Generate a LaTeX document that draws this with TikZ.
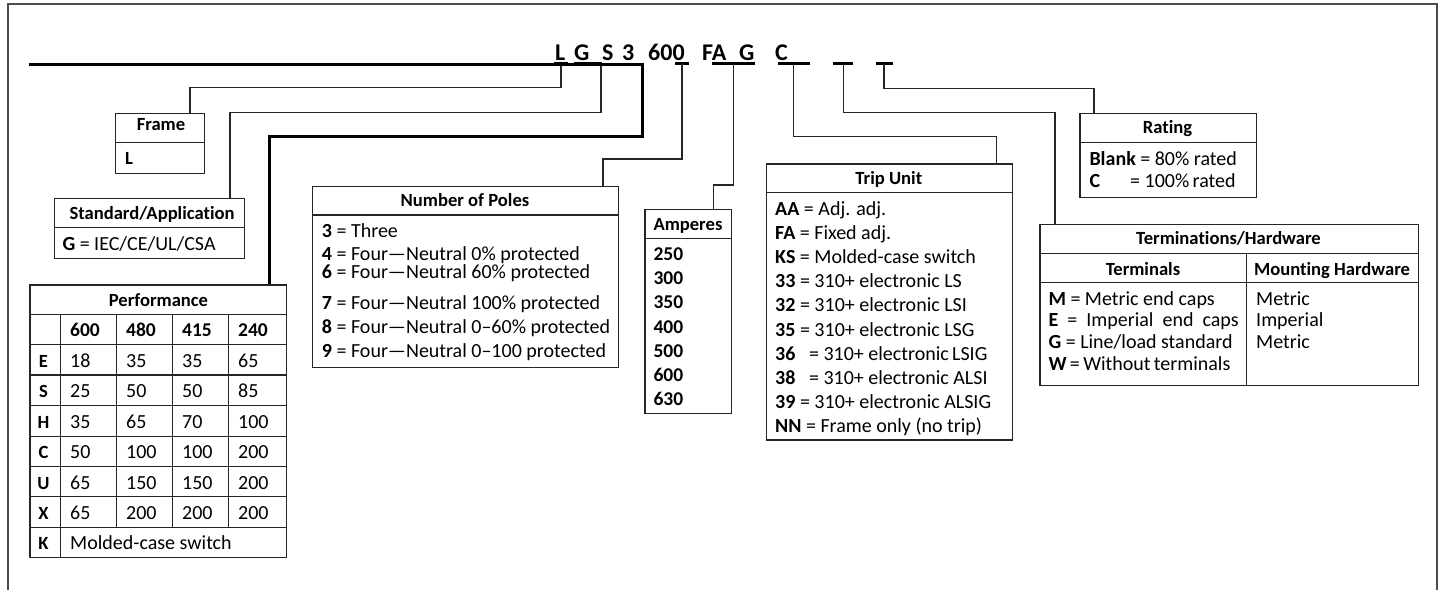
\documentclass[tikz,border=0pt]{standalone}
\usepackage{fontspec}
\setmainfont[Ligatures=NoCommon]{Carlito}
\begin{document}
\begin{tikzpicture}[x=1pt,y=-1pt,
  conn/.style={draw=black!85,line width=1.3pt},
  heavy/.style={draw=black,line width=3pt},
  bar/.style={draw=black,line width=3pt},
  box/.style={draw=black!85,line width=1.3pt,inner sep=0pt,anchor=north west},
  rule/.style={draw=black!85,line width=1.3pt},
  txt/.style={inner sep=0pt,anchor=base west,font=\fontsize{20}{22}\selectfont},
  hd/.style={inner sep=0pt,anchor=base,font=\fontsize{18.6}{21}\selectfont\bfseries},
  hdl/.style={inner sep=0pt,anchor=base west,font=\fontsize{18.6}{21}\selectfont\bfseries},
  num/.style={inner sep=0pt,anchor=base west,font=\fontsize{19.5}{21}\selectfont\bfseries},
  ttl/.style={inner sep=0pt,anchor=base west,font=\fontsize{24}{26}\selectfont\bfseries},
  frameline/.style={draw=black!70,line width=2.4pt}]

\useasboundingbox (0,0) rectangle (1442,589);
\draw[frameline] (8,600) -- (8,4) -- (1437,4) -- (1437,600);

% ---- title
\node[ttl] (tL) at (555,60) {L};
\node[ttl] (tG) at (574,60) {G};
\node[ttl] (tS) at (602,60) {S};
\node[ttl] (t3) at (622,60) {3};
\node[ttl] (t600) at (648,60) {600};
\node[ttl] (tFA) at (702,60) {FA};
\node[ttl] (tG2) at (739,60) {G};
\node[ttl] (tC) at (775,60) {C};

\draw[bar] (554,63.5) -- (568,63.5);
\draw[bar] (574,63.5) -- (602,63.5);
\draw[bar] (675,63.5) -- (689,63.5);
\draw[bar] (712,63.5) -- (755,63.5);
\draw[bar] (778,63.5) -- (810,63.5);
\draw[bar] (833,63.5) -- (853,63.5);
\draw[bar] (876,63.5) -- (893,63.5);

\coordinate (cL) at (561,63.5);
\coordinate (cG) at (601,63.5);
\coordinate (c600) at (682,63.5);
\coordinate (cFA) at (733.3,63.5);
\coordinate (cC) at (793.3,63.5);
\coordinate (cT) at (843.3,63.5);
\coordinate (cR) at (884,63.5);
\coordinate (mainStart) at (29,64.5);

% ---- Frame
\node[box,minimum width=89pt,minimum height=60pt] (frameBox) at (115,112.7) {};
\draw[rule] (frameBox.west |- 0,142.7) -- (frameBox.east |- 0,142.7);
\node[hd] (frameHd) at (161,130.5) {Frame};
\node[hdl] (frameL) at (125,164.3) {L};
\coordinate (inFrame) at (190,112.7);
\draw[conn] (cL) |- (inFrame |- 0,87.3) -- (inFrame);

% ---- Standard
\node[box,minimum width=190.3pt,minimum height=59.7pt] (stdBox) at (53.7,198) {};
\draw[rule] (stdBox.west |- 0,227.7) -- (stdBox.east |- 0,227.7);
\node[hd] (stdHd) at (152,219.5) {Standard/Application};
\node[txt] (stdG) at (62.3,250) {\textbf{G} = IEC/CE/UL/CSA};
\coordinate (inStd) at (230,198);
\draw[conn] (cG) |- (inStd |- 0,112.7) -- (inStd);

% ---- Performance
\node[box,minimum width=256.4pt,minimum height=272.4pt] (perfBox) at (29.3,284.3) {};
\foreach \yy in {314.3,344.3,375,405.7,436.7,466.7,496.7,527.3}
  \draw[rule] (29.3,\yy) -- (285.7,\yy);
\draw[rule] (60.3,314.3) -- (60.3,556.7);
\foreach \xx in {116.3,172.3,228.3}
  \draw[rule] (\xx,314.3) -- (\xx,527.3);
\node[hd] (perfHd) at (158.5,306) {Performance};
\node[num] (pv1) at (70,336.7) {600};
\node[num] (pv2) at (126,336.7) {480};
\node[num] (pv3) at (182,336.7) {415};
\node[num] (pv4) at (238,336.7) {240};
\foreach \L/\a/\b/\c/\d [count=\i] in {E/18/35/35/65,S/25/50/50/85,H/35/65/70/100,C/50/100/100/200,U/65/150/150/200,X/65/200/200/200}{
  \pgfmathsetmacro\yb{344.3+30.5*\i-7.8}
  \node[hd] (pr\i) at (43.5,\yb) {\L};
  \node[txt] (pa\i) at (70,\yb) {\a};
  \node[txt] (pb\i) at (126,\yb) {\b};
  \node[txt] (pc\i) at (182,\yb) {\c};
  \node[txt] (pd\i) at (238,\yb) {\d};
}
\node[hd] (prK) at (43.5,549) {K};
\node[txt] (pK) at (70,549) {Molded-case switch};
\coordinate (inPerf) at (269,284.3);
\draw[heavy] (mainStart) -- (642.7,64.5) -- (642.7,136) -| (inPerf);

% ---- Poles
\node[box,minimum width=306pt,minimum height=181pt] (poleBox) at (312,186) {};
\draw[rule] (poleBox.west |- 0,215) -- (poleBox.east |- 0,215);
\node[hd] (poleHd) at (465,206.7) {Number of Poles};
\node[txt] (pl1) at (321.7,237.5) {\textbf{3} = Three};
\node[txt] (pl2) at (321.7,260.8) {\textbf{4} = Four—Neutral 0\% protected};
\node[txt] (pl3) at (321.7,278) {\textbf{6} = Four—Neutral 60\% protected};
\node[txt] (pl4) at (321.7,309.5) {\textbf{7} = Four—Neutral 100\% protected};
\node[txt] (pl5) at (321.7,333.7) {\textbf{8} = Four—Neutral 0–60\% protected};
\node[txt] (pl6) at (321.7,357.9) {\textbf{9} = Four—Neutral 0–100 protected};
\coordinate (inPole) at (603,186);
\draw[conn] (c600) |- (inPole |- 0,159) -- (inPole);

% ---- Amperes
\node[box,minimum width=86.7pt,minimum height=203.7pt] (ampBox) at (644.3,209) {};
\draw[rule] (ampBox.west |- 0,238.3) -- (ampBox.east |- 0,238.3);
\node[hdl] (ampHd) at (653.3,230) {Amperes};
\foreach \v [count=\i] in {250,300,350,400,500,600,630}{
  \pgfmathsetmacro\yb{260.7+24.1*(\i-1)}
  \node[num] (amp\i) at (653.3,\yb) {\v};
}
\coordinate (inAmp) at (713.3,209);
\draw[conn] (cFA) |- (inAmp |- 0,185) -- (inAmp);

% ---- Trip unit
\node[box,minimum width=245.7pt,minimum height=276pt] (tripBox) at (766,163.3) {};
\draw[rule] (tripBox.west |- 0,192.3) -- (tripBox.east |- 0,192.3);
\node[hd] (tripHd) at (888.8,184) {Trip Unit};
\foreach \t [count=\i] in {{\textbf{AA} = Adj. adj.},{\textbf{FA} = Fixed adj.},{\textbf{KS} = Molded-case switch},{\textbf{33} = 310+ electronic LS},{\textbf{32} = 310+ electronic LSI},{\textbf{35} = 310+ electronic LSG},{\textbf{36}\ \ \ = 310+ electronic\,LSIG},{\textbf{38}\ \ \ = 310+ electronic ALSI},{\textbf{39} = 310+ electronic ALSIG},{\textbf{NN} = Frame only (no trip)}}{
  \pgfmathsetmacro\yb{215+24.2*(\i-1)}
  \node[txt] (trip\i) at (775,\yb) {\t};
}
\coordinate (inTrip) at (996.7,163.3);
\draw[conn] (cC) |- (inTrip |- 0,136.7) -- (inTrip);

% ---- Rating
\node[box,minimum width=176.7pt,minimum height=84pt] (rateBox) at (1079.3,112.7) {};
\draw[rule] (rateBox.west |- 0,142.3) -- (rateBox.east |- 0,142.3);
\node[hd] (rateHd) at (1167.6,133.3) {Rating};
\node[txt] (rate1) at (1089.3,165) {\textbf{Blank} = 80\% rated};
\node[txt] (rate2a) at (1089.3,187.3) {\textbf{C}};
\node[txt] (rate2b) at (1130,187.3) {= 100\%\,rated};
\coordinate (inRate) at (1094,112.7);
\draw[conn] (cR) |- (inRate |- 0,88.3) -- (inRate);

% ---- Terminations
\node[box,minimum width=378.4pt,minimum height=161pt] (termBox) at (1039.3,224) {};
\draw[rule] (termBox.west |- 0,253.3) -- (termBox.east |- 0,253.3);
\draw[rule] (termBox.west |- 0,282.7) -- (termBox.east |- 0,282.7);
\draw[rule] (1246.7,253.3) -- (1246.7,385);
\node[hd] (termHd) at (1228.5,244) {Terminations/Hardware};
\node[hd] (termC1) at (1143,275) {Terminals};
\node[hd] (termC2) at (1332,275) {Mounting Hardware};
\node[txt] (tm1) at (1048.3,305) {\textbf{M} = Metric end caps};
\node[txt] (tm2) at (1048.3,326.7) {\textbf{E} \ = \ Imperial \ end \ caps};
\node[txt] (tm3) at (1048.3,348.3) {\textbf{G} = Line/load standard};
\node[txt] (tm4) at (1048.3,370) {\textbf{W}\,=\,Without\,terminals};
\node[txt] (th1) at (1256,305) {Metric};
\node[txt] (th2) at (1256,326.7) {Imperial};
\node[txt] (th3) at (1256,348.3) {Metric};
\coordinate (inTerm) at (1055,224);
\draw[conn] (cT) |- (inTerm |- 0,112.5) -- (inTerm);

\end{tikzpicture}
\end{document}
